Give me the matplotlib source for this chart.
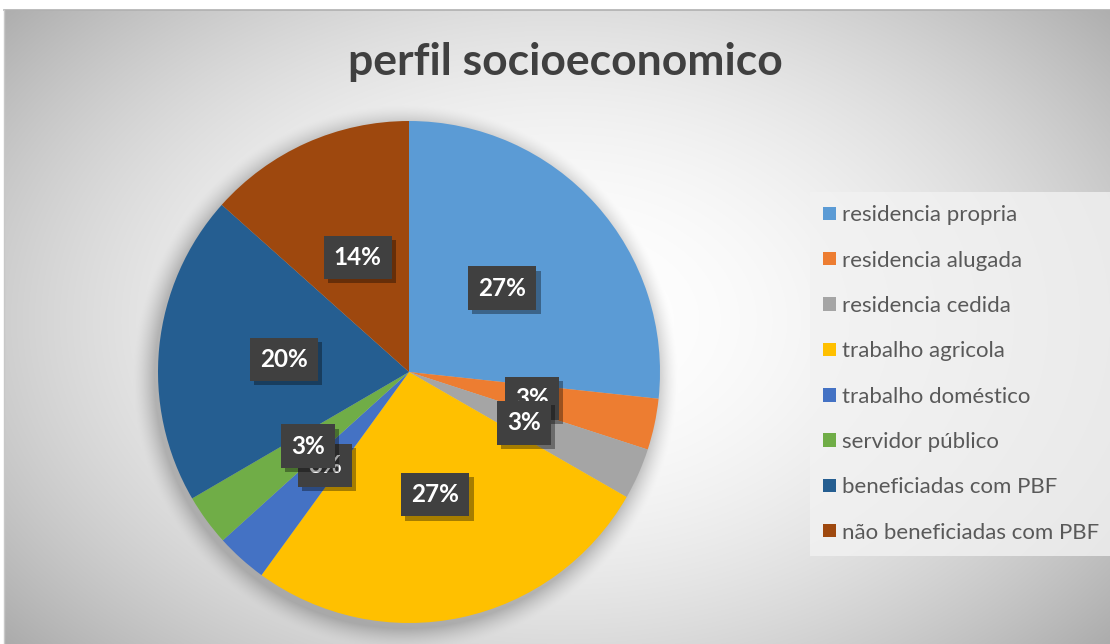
import numpy as np
import matplotlib.pyplot as plt
from matplotlib.patches import Patch
import matplotlib.patheffects as pe

W, H = 1110, 644

categories = [
    "residencia propria",
    "residencia alugada",
    "residencia cedida",
    "trabalho agricola",
    "trabalho doméstico",
    "servidor público",
    "beneficiadas com PBF",
    "não beneficiadas com PBF",
]
shares = [26.7, 3.3, 3.3, 26.7, 3.3, 3.3, 20.0, 13.4]
pct_labels = ["27%", "3%", "3%", "27%", "3%", "3%", "20%", "14%"]
colors = ["#5B9BD5", "#ED7D31", "#A5A5A5", "#FFC000",
          "#4472C4", "#70AD47", "#255E91", "#9E480E"]

title = "perfil socioeconomico"

fig = plt.figure(figsize=(W / 100, H / 100), dpi=100)

# background: soft radial gradient + pie shadow
yy, xx = np.mgrid[0:H, 0:W]
r = np.sqrt(((xx - 560) / 640.0) ** 2 + ((yy - 320) / 430.0) ** 2)
val = 1.0 - 0.25 * np.clip(r, 0, 1.3) ** 2
cx, cy, R = 409, 374, 251
d = np.sqrt((xx - cx + 4) ** 2 + (yy - cy - 3) ** 2)
shadow = 0.22 * np.clip((R + 22 - d) / 22.0, 0, 1) ** 1.5
val = val * (1 - shadow)
val[:10, :] = 1.0
val[:, :4] = 1.0
img = np.dstack([val, val, val])

ax_bg = fig.add_axes([0, 0, 1, 1])
ax_bg.imshow(img, extent=(0, W, H, 0), interpolation="bilinear")
ax_bg.plot([4, W], [10, 10], color="#b0b0b0", lw=1.2)
ax_bg.plot([4, 4], [10, H], color="#c8c8c8", lw=1.0)
ax_bg.set_xlim(0, W)
ax_bg.set_ylim(H, 0)
ax_bg.axis("off")

ax_bg.text(565, 62, title, ha="center", va="center", fontsize=32,
           fontweight="bold", family="Lato", color="#404040")

# pie
box = 600
ax = fig.add_axes([(409 - box / 2) / W, (H - 372 - box / 2) / H, box / W, box / H])
wedges, texts = ax.pie(
    shares, colors=colors, startangle=90, counterclock=False, radius=251,
    labels=pct_labels, labeldistance=0.5,
    wedgeprops=dict(linewidth=0),
    textprops=dict(color="white", fontsize=17.5, fontweight="bold", family="Lato"),
)
for t in texts:
    t.set_ha("center")
    t.set_va("center")
    t.set_bbox(dict(boxstyle="square,pad=0.42", facecolor="#404040", edgecolor="none"))
    t.get_bbox_patch().set_path_effects([
        pe.withSimplePatchShadow(offset=(3, -3), shadow_rgbFace="black", alpha=0.35)
    ])
ax.set_xlim(-box / 2, box / 2)
ax.set_ylim(-box / 2, box / 2)
ax.axis("off")

handles = [Patch(facecolor=c, edgecolor="none") for c in colors]
leg = fig.legend(
    handles, categories, loc="upper left",
    bbox_to_anchor=(810 / W, 1 - 192 / H),
    frameon=True, fancybox=False,
    handlelength=0.55, handleheight=0.55, handletextpad=0.3,
    labelspacing=1.14, borderpad=0.6, borderaxespad=0,
    prop=dict(family="Lato", size=16),
)
leg.get_frame().set_facecolor("#f2f2f2")
leg.get_frame().set_edgecolor("none")
for t in leg.get_texts():
    t.set_color("#595959")

fig.savefig("out.png", dpi=100)
